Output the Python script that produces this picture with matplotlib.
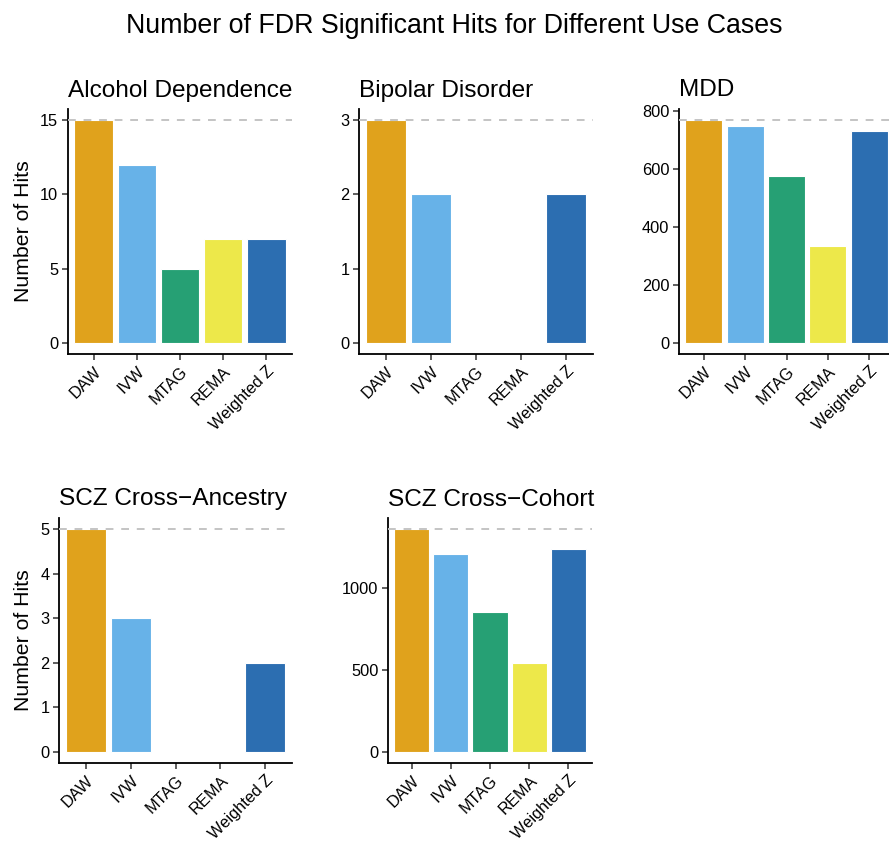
import numpy as np
import matplotlib
matplotlib.use("Agg")
import matplotlib.pyplot as plt

plt.rcParams['font.family'] = ['Liberation Sans', 'DejaVu Sans']

methods = ["DAW", "IVW", "MTAG", "REMA", "Weighted Z"]
colors = ["#E0A21C", "#67B2E8", "#26A074", "#EDE84A", "#2C6EB1"]

alcohol = [15, 12, 5, 7, 7]
bipolar = [3, 2, 0, 0, 2]
mdd = [767, 747, 573, 334, 731]
scz_ancestry = [5, 3, 0, 0, 2]
scz_cohort = [1356, 1207, 854, 539, 1238]

W, H = 889, 841
fig = plt.figure(figsize=(W / 100, H / 100), dpi=100)


def box(l, t, r, b):
    return [l / W, 1 - b / H, (r - l) / W, (b - t) / H]


panels = [
    ("Alcohol Dependence", alcohol, [0, 5, 10, 15], box(68, 109, 292, 354), True),
    ("Bipolar Disorder", bipolar, [0, 1, 2, 3], box(359, 109, 593, 354), False),
    ("MDD", mdd, [0, 200, 400, 600, 800], box(679, 109, 894, 354), False),
    ("SCZ Cross\u2212Ancestry", scz_ancestry, [0, 1, 2, 3, 4, 5], box(59, 518, 292, 763), True),
    ("SCZ Cross\u2212Cohort", scz_cohort, [0, 500, 1000], box(388, 518, 592, 763), False),
]

for title, vals, yticks, rect, ylab in panels:
    ax = fig.add_axes(rect)
    x = np.arange(1, len(methods) + 1)
    ax.bar(x, vals, width=0.9, color=colors, edgecolor="white", linewidth=0.8, zorder=2)
    top = max(vals)
    ax.axhline(top, color="#C4C4C4", linestyle=(0, (4, 4)), linewidth=1.4, zorder=3)
    ax.set_xlim(0.4, 5.6)
    ax.set_ylim(-0.05 * top, 1.05 * top)
    ax.set_xticks(x)
    ax.set_xticklabels(methods, rotation=45, ha="right", va="top",
                       rotation_mode="anchor", fontsize=11.8)
    ax.set_yticks(yticks)
    ax.tick_params(axis="both", labelsize=11.8, length=4, width=1.1, color="#333333", pad=3)
    for s in ["top", "right"]:
        ax.spines[s].set_visible(False)
    for s in ["left", "bottom"]:
        ax.spines[s].set_linewidth(1.3)
    ax.set_title(title, loc="left", fontsize=17.6, pad=9)
    if ylab:
        ax.set_ylabel("Number of Hits", fontsize=15.3, labelpad=5)

fig.text(0.511, 0.969, "Number of FDR Significant Hits for Different Use Cases",
         ha="center", va="center", fontsize=19.3)

fig.savefig("out.png", dpi=100)
